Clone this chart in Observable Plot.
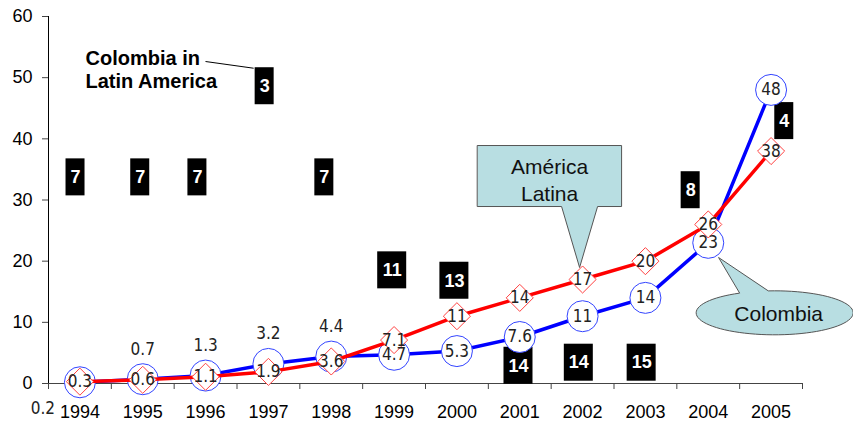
<!DOCTYPE html>
<html><head><meta charset="utf-8">
<script src="https://cdn.jsdelivr.net/npm/d3@7"></script>
<script src="https://cdn.jsdelivr.net/npm/@observablehq/plot@0.6"></script>
<style>
body{margin:0;background:#fff}
#chart svg{display:block}
#chart svg g[aria-label^="y-axis"] path, #chart svg g[aria-label^="y-axis"] line{stroke:#444}
</style>
</head><body><div id="chart"></div>
<script>
// ---- data ----
const years = [1994,1995,1996,1997,1998,1999,2000,2001,2002,2003,2004,2005];
const colombia = [0.2,0.7,1.3,3.2,4.4,4.7,5.3,7.6,11,14,23,48];
const latinAmerica = [0.3,0.6,1.1,1.9,3.6,7.1,11,14,17,20,26,38];
const ranks = [7,7,7,3,7,11,13,14,14,15,8,4];
// annotation anchors for the rank boxes (in data units)
const rankAnchorYear = [1993.93,1994.96,1995.87,1996.94,1997.89,1998.97,1999.96,2000.98,2001.94,2002.94,2003.72,2005.21];
const rankAnchorValue = [33.7,33.7,33.7,48.6,33.7,18.5,16.8,2.9,3.4,3.4,31.6,42.9];
const yTicks = [0,10,20,30,40,50,60];
const titleLines = ["Colombia in","Latin America"];
const calloutLatinLines = ["América","Latina"];
const calloutColombia = "Colombia";

// ---- layout ----
const W = 853, H = 424, mL = 48, mR = 51, mT = 16, mB = 41;
const xs = d3.scaleLinear([1993.5, 2005.5], [mL, W - mR]);
const ys = d3.scaleLinear([0, 60], [H - mB, mT]);
const inv = (px, py) => ({x: xs.invert(px), y: ys.invert(py)});

const rows = years.map((year, i) => ({year, col: colombia[i], la: latinAmerica[i], i}));
const boundaries = years.map(y => y - 0.5).concat([years[years.length - 1] + 0.5]);

// rank boxes
const boxes = ranks.map((r, i) => {
  const cx = xs(rankAnchorYear[i]), cy = ys(rankAnchorValue[i]);
  const w = r > 9 ? 29 : 19, h = 37;
  return {r, x: rankAnchorYear[i], y: rankAnchorValue[i],
    x1: xs.invert(cx - w / 2), x2: xs.invert(cx + w / 2),
    y1: ys.invert(cy + h / 2), y2: ys.invert(cy - h / 2)};
});

// América Latina callout anchored on Latin America 2002
const ai = years.indexOf(2002);
const ax = xs(years[ai]), ay = ys(latinAmerica[ai]);
const laPoly = [[-105,-134],[39,-134],[39,-73],[15,-73],[-3,-12],[-21,-73],[-105,-73]]
  .map(([dx, dy]) => inv(ax + dx, ay + dy));
const laText = [{t: calloutLatinLines.join("\n"), ...inv(ax - 33, ay - 100.5)}];

// Colombia callout anchored on Colombia 2004
const ci = years.indexOf(2004);
const cx0 = xs(years[ci]), cy0 = ys(colombia[ci]);
const ecx = cx0 + 66.4, ecy = cy0 + 70, erx = 78.5, ery = 22;
const a1 = Math.acos(-6 / erx) , a2 = Math.acos(-35 / erx);
const colPoly = [];
const start = -a1 * 180 / Math.PI, end = 360 - a2 * 180 / Math.PI;
for (let k = 0; k <= 80; k++) {
  const th = (start + (end - start) * k / 80) * Math.PI / 180;
  colPoly.push(inv(ecx + erx * Math.cos(th), ecy + ery * Math.sin(th)));
}
colPoly.push(inv(cx0 + 10.5, cy0 + 15));
const colText = [{t: calloutColombia, ...inv(ecx + 4, ecy + 1)}];

// title + leader
const titlePos = [{t: titleLines.join("\n"), ...inv(85, 68.5)}];
const b3 = boxes[years.indexOf(1997)];
const leader = [{a: inv(205, 61), b: inv(xs(b3.x) - 11, ys(b3.y) - 18)}];

const labelFont = "'Liberation Sans Narrow','Arial Narrow','DejaVu Sans Condensed',sans-serif";
const lblOpts = {x: "year", y: "col", text: d => String(d.col), fontFamily: labelFont, fontSize: 17, fill: "#222"};

const chart = Plot.plot({
  width: W, height: H,
  marginLeft: mL, marginRight: mR, marginTop: mT, marginBottom: mB,
  style: {fontFamily: "'Liberation Sans', Arial, sans-serif", fontSize: "18px", color: "#000", background: "#fff"},
  x: {type: "linear", domain: [1993.5, 2005.5], ticks: years, tickFormat: d => String(d), tickSize: 0, tickPadding: 22, label: null},
  y: {domain: [0, 60], ticks: yTicks, tickSize: 6, tickPadding: 10, label: null, line: true},
  marks: [
    Plot.ruleY([0], {stroke: "#444"}),
    Plot.ruleX(boundaries, {x: d => d, y1: 0, y2: ys.invert(H - mB + 6), stroke: "#444"}),
    // rank boxes
    Plot.rect(boxes, {x1: "x1", x2: "x2", y1: "y1", y2: "y2", fill: "#000"}),
    Plot.text(boxes, {x: "x", y: "y", text: d => String(d.r), fill: "#fff", fontWeight: "bold", fontSize: 18}),
    // Colombia series
    Plot.line(rows, {x: "year", y: "col", stroke: "#0000ff", strokeWidth: 3.5}),
    Plot.dot(rows, {x: "year", y: "col", r: 15.5, stroke: "#3344ff", strokeWidth: 1, fill: "#fff"}),
    // Latin America series
    Plot.line(rows, {x: "year", y: "la", stroke: "#ff0000", strokeWidth: 3.5}),
    Plot.dot(rows, {x: "year", y: "la", symbol: "diamond2", r: 12.2, stroke: "#ff4040", strokeWidth: 1, fill: "#fff"}),
    // callouts
    Plot.line(laPoly, {x: "x", y: "y", curve: "linear-closed", fill: "#b8dee2", stroke: "#555", strokeWidth: 1}),
    Plot.text(laText, {x: "x", y: "y", text: "t", fontSize: 21, lineHeight: 1.28, fill: "#111"}),
    Plot.line(colPoly, {x: "x", y: "y", curve: "linear-closed", fill: "#b8dee2", stroke: "#555", strokeWidth: 1}),
    Plot.text(colText, {x: "x", y: "y", text: "t", fontSize: 21, fill: "#111"}),
    // title and leader
    Plot.text(titlePos, {x: "x", y: "y", text: "t", textAnchor: "start", fontWeight: "bold", fontSize: 20, lineHeight: 1.15, fill: "#000"}),
    Plot.link(leader, {x1: d => d.a.x, y1: d => d.a.y, x2: d => d.b.x, y2: d => d.b.y, stroke: "#000", strokeWidth: 1}),
    // value labels
    Plot.text(rows, {x: "year", y: "la", text: d => String(d.la), fontFamily: labelFont, fontSize: 17, fill: "#222"}),
    Plot.text(rows, {...lblOpts, filter: d => d.i === 0, dx: -37, dy: 26}),
    Plot.text(rows, {...lblOpts, filter: d => d.i > 0 && d.i < 5, dy: -30}),
    Plot.text(rows, {...lblOpts, filter: d => d.i >= 5})
  ]
});
document.getElementById("chart").appendChild(chart);
</script>
</body></html>
